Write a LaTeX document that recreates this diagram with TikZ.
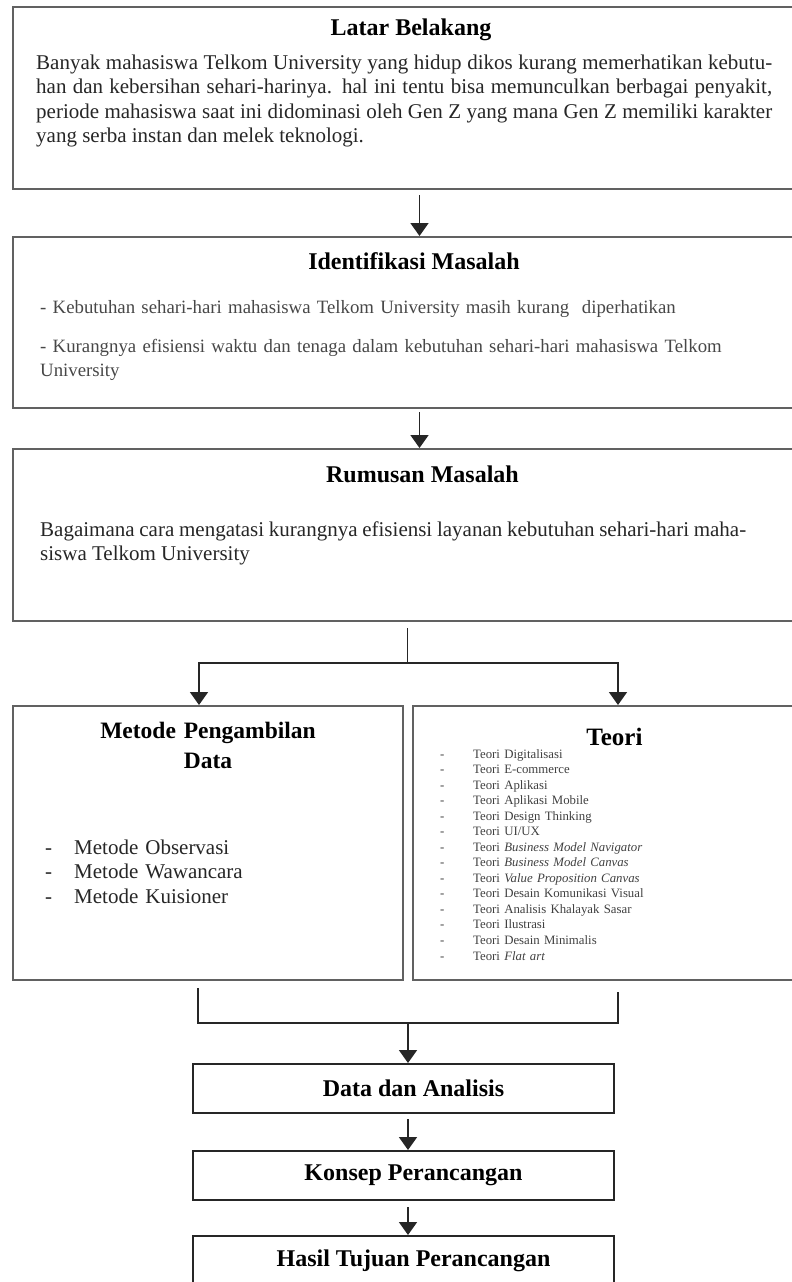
\documentclass[tikz,border=0pt]{standalone}
\usepackage{fontspec}
\setmainfont{Liberation Serif}
\usetikzlibrary{arrows.meta, positioning, calc}
\newcommand{\butir}[1][33pt]{\makebox[#1][l]{-}}
\tikzset{%
	bigbox/.style={draw=black!62, line width=2.6pt, rectangle, anchor=north west,%
		inner sep=0pt, outer sep=0pt},
	smallbox/.style={draw=black!85, line width=1.9pt, rectangle, minimum width=421pt,%
		minimum height=49pt, inner sep=0pt, outer sep=0pt,%
		font=\bfseries\fontsize{24}{28}\selectfont, execute at begin node={\hspace*{20pt}}},
	head/.style={font=\bfseries\fontsize{24}{30}\selectfont, anchor=base, inner sep=0pt},
	body/.style={font=\fontsize{21}{24.5}\selectfont, text=black!85, anchor=base west, inner sep=0pt},
	connector/.style={line width=1.8pt, black!85},
	sel/.style={connector, -{Triangle[width=18pt,length=13pt]}, shorten >=1pt}
}
\begin{document}
\begin{tikzpicture}[x=1pt, y=-1pt]
	\useasboundingbox (0,0) rectangle (792,1282);
	\clip (0,0) rectangle (792,1282);

	% kotak utama
	\node[bigbox, minimum width=807pt, minimum height=182pt] (latar) at (13,7) {};
	\node[bigbox, minimum width=807pt, minimum height=171pt] (identifikasi) at (13,237) {};
	\node[bigbox, minimum width=807pt, minimum height=172pt] (rumusan) at (13,449) {};
	\node[bigbox, minimum width=390pt, minimum height=274pt] (metode) at (13,706) {};
	\node[bigbox, minimum width=407pt, minimum height=274pt] (teori) at (413,706) {};
	\node[smallbox, anchor=north] (data) at (403.5,1064) {Data dan Analisis};
	\node[smallbox, below=38pt of data] (konsep) {Konsep Perancangan};
	\node[smallbox, below=36pt of konsep] (hasil) {Hasil Tujuan Perancangan};

	% isi kotak
	\node[head] (latarjudul) at ([xshift=-5.5pt, yshift=-28pt]latar.north) {Latar Belakang};
	\node[body, text width=736pt, align=justify] (latarisi) at ([xshift=23pt, yshift=-62pt]latar.north west)
		{Banyak mahasiswa Telkom University yang hidup dikos kurang memerhatikan kebutu-\linebreak
		han dan kebersihan sehari-harinya. hal ini tentu bisa memunculkan berbagai penyakit,\linebreak
		periode mahasiswa saat ini didominasi oleh Gen Z yang mana Gen Z memiliki karakter\linebreak
		yang serba instan dan melek teknologi.};

	\node[head] (identifikasijudul) at ([xshift=-2.5pt, yshift=-32pt]identifikasi.north) {Identifikasi Masalah};
	\node[body, font=\fontsize{18.8}{24}\selectfont, text=black!72, text width=740pt, align=left] (identifikasiisi)
		at ([xshift=27pt, yshift=-76pt]identifikasi.north west)
		{- Kebutuhan sehari-hari mahasiswa Telkom University masih kurang~ diperhatikan\\[15pt]
		- Kurangnya efisiensi waktu dan tenaga dalam kebutuhan sehari-hari mahasiswa Telkom\\
		University};

	\node[head] (rumusanjudul) at ([xshift=6pt, yshift=-33pt]rumusan.north) {Rumusan Masalah};
	\node[body, font=\fontsize{21}{24}\selectfont, text width=706pt, align=justify] (rumusanisi)
		at ([xshift=27pt, yshift=-87pt]rumusan.north west)
		{Bagaimana cara mengatasi kurangnya efisiensi layanan kebutuhan sehari-hari maha-\linebreak
		siswa Telkom University};

	\node[head, font=\bfseries\fontsize{23.5}{30}\selectfont, text width=390pt, align=center] (metodejudul)
		at ([yshift=-32pt]metode.north) {Metode Pengambilan\\Data};
	\node[body, font=\fontsize{21}{24.8}\selectfont, text width=330pt, align=left] (metodeisi)
		at ([xshift=32pt, yshift=-148pt]metode.north west)
		{\butir[29pt]Metode Observasi\\
		\butir[29pt]Metode Wawancara\\
		\butir[29pt]Metode Kuisioner};

	\node[head, font=\bfseries\fontsize{25}{30}\selectfont] (teorijudul) at ([xshift=-2pt, yshift=-39pt]teori.north) {Teori};
	\node[body, font=\fontsize{12.8}{15.54}\selectfont, text=black!75, text width=300pt, align=left] (teoriisi)
		at ([xshift=27pt, yshift=-52pt]teori.north west)
		{\butir Teori Digitalisasi\\
		\butir Teori E-commerce\\
		\butir Teori Aplikasi\\
		\butir Teori Aplikasi Mobile\\
		\butir Teori Design Thinking\\
		\butir Teori UI/UX\\
		\butir Teori \textit{Business Model Navigator}\\
		\butir Teori \textit{Business Model Canvas}\\
		\butir Teori \textit{Value Proposition Canvas}\\
		\butir Teori Desain Komunikasi Visual\\
		\butir Teori Analisis Khalayak Sasar\\
		\butir Teori Ilustrasi\\
		\butir Teori Desain Minimalis\\
		\butir Teori \textit{Flat art}};

	% penghubung
	\coordinate (cabang) at (407.5,663);
	\coordinate (gabung) at (408,1023);
	\draw[sel, shorten <=6pt] ([xshift=3pt]latar.south) -- ([xshift=3pt]identifikasi.north);
	\draw[sel, shorten <=4pt] ([xshift=3pt]identifikasi.south) -- ([xshift=3pt]rumusan.north);
	\draw[connector, shorten <=7pt] (rumusan.south -| cabang) -- (cabang);
	\draw[sel] (cabang) -| ([xshift=-9pt]metode.north);
	\draw[sel] (cabang) -| ([xshift=1.5pt]teori.north);
	\draw[connector] ([xshift=-10pt, yshift=-8pt]metode.south) |- (gabung);
	\draw[connector] ([xshift=1.5pt, yshift=-12pt]teori.south) |- (gabung);
	\draw[sel] (gabung) -- (gabung |- data.north);
	\draw[sel, shorten <=6pt] (data.south -| gabung) -- (konsep.north -| gabung);
	\draw[sel, shorten <=7pt] (konsep.south -| gabung) -- (hasil.north -| gabung);
\end{tikzpicture}
\end{document}
